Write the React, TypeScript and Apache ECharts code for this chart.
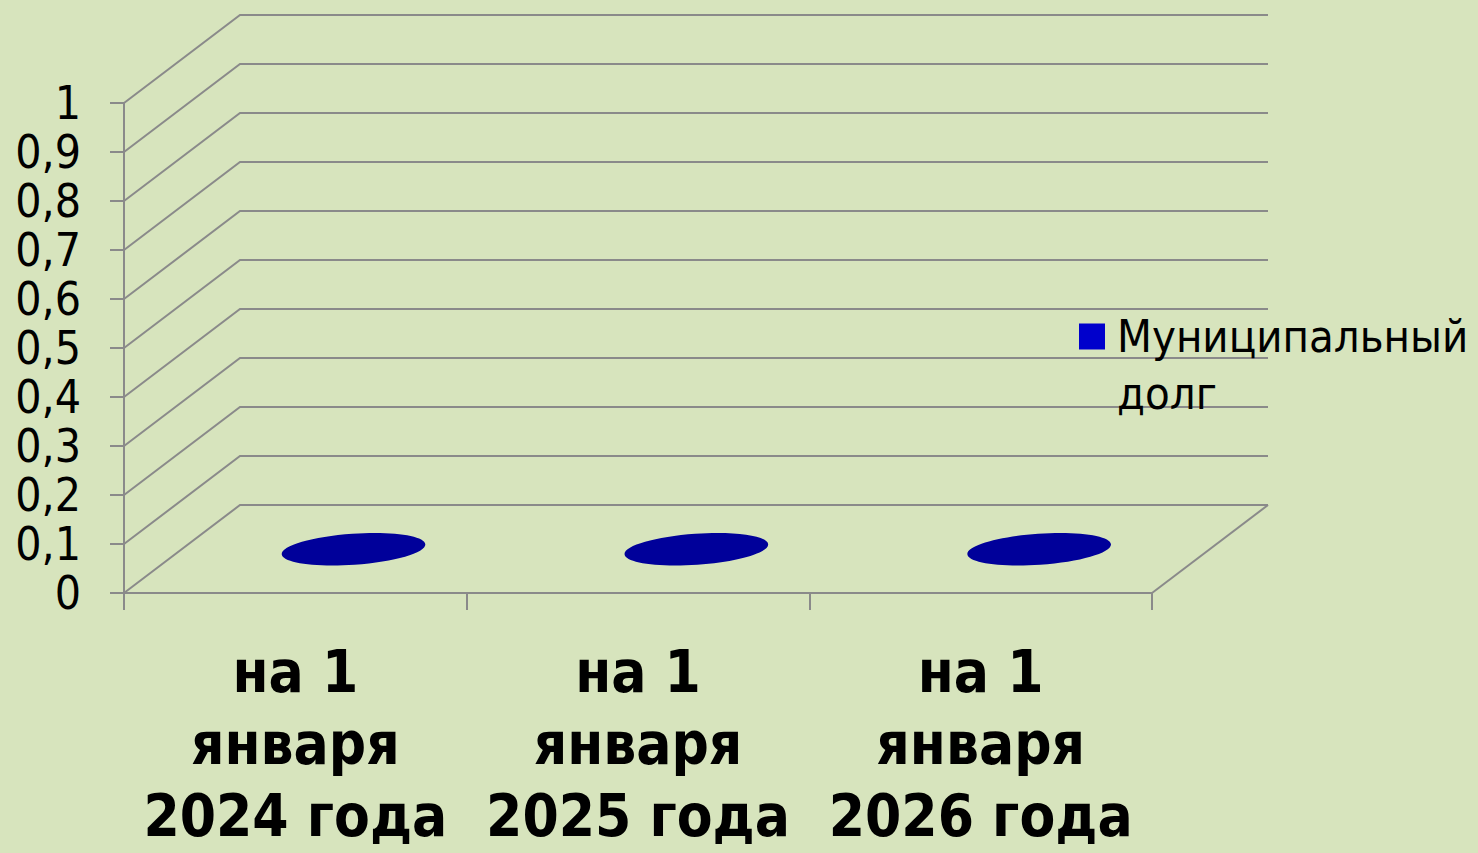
import React, { useEffect, useRef } from "react";
import * as echarts from "echarts";

const categories = [
  "на 1\nянваря\n2024 года",
  "на 1\nянваря\n2025 года",
  "на 1\nянваря\n2026 года",
];
const debtValues = [0, 0, 0];
const yTicks = [0, 0.1, 0.2, 0.3, 0.4, 0.5, 0.6, 0.7, 0.8, 0.9, 1];
const seriesName = "Муниципальный\nдолг";

const DEPTH_X = 116;
const DEPTH_Y = -88;
const GRID_COLOR = "#8a8a8a";
const FONT = "'DejaVu Sans Condensed', 'DejaVu Sans', sans-serif";

export default function App() {
  const ref = useRef<HTMLDivElement>(null);

  useEffect(() => {
    if (!ref.current) return;
    const chart = echarts.init(ref.current, null, { renderer: "svg" });

    const option: any = {
      animation: false,
      backgroundColor: "#d7e4bd",
      textStyle: { fontFamily: FONT },
      grid: {
        left: 124,
        right: 326,
        top: 103,
        bottom: 260,
        containLabel: false,
        outerBoundsMode: "none",
      },
      legend: {
        left: 1079,
        top: 251,
        padding: 0,
        orient: "vertical",
        selectedMode: false,
        itemWidth: 26,
        itemHeight: 26,
        icon: "rect",
        data: [{ name: seriesName, icon: "rect" }],
        formatter: (name: string) => " \n" + name,
        textStyle: {
          fontFamily: FONT,
          fontSize: 45,
          color: "#000",
          lineHeight: 57,
          padding: [0, 0, 0, 7],
        },
      },
      xAxis: {
        type: "category",
        data: categories,
        boundaryGap: true,
        axisLine: { show: true, lineStyle: { color: GRID_COLOR, width: 2 } },
        axisTick: { show: true, length: 17, lineStyle: { color: GRID_COLOR, width: 2 } },
        axisLabel: {
          interval: 0,
          margin: 43,
          fontFamily: FONT,
          fontSize: 58,
          fontWeight: "bold",
          lineHeight: 72,
          color: "#000",
        },
        splitLine: { show: false },
      },
      yAxis: {
        type: "value",
        min: 0,
        max: 1,
        interval: 0.1,
        axisLine: { show: true, lineStyle: { color: GRID_COLOR, width: 2 } },
        axisTick: { show: true, length: 14, lineStyle: { color: GRID_COLOR, width: 2 } },
        axisLabel: {
          margin: 43,
          fontFamily: FONT,
          fontSize: 46,
          lineHeight: 44,
          color: "#000",
          formatter: (v: number) => String(+v.toFixed(1)).replace(".", ","),
        },
        splitLine: { show: false },
      },
      series: [
        {
          type: "custom",
          name: "grid3d",
          silent: true,
          z: 1,
          data: yTicks.map((v) => [0, v]),
          renderItem: (params: any, api: any) => {
            const v = api.value(1);
            const p = api.coord([0, v]);
            const bw = api.size([1, 0])[0];
            const left = p[0] - bw / 2;
            const right = left + bw * categories.length;
            const y = p[1];
            const children: any[] = [
              {
                type: "polyline",
                shape: {
                  points: [
                    [left, y],
                    [left + DEPTH_X, y + DEPTH_Y],
                    [right + DEPTH_X, y + DEPTH_Y],
                  ],
                },
                style: { stroke: GRID_COLOR, lineWidth: 2, fill: "none" },
              },
            ];
            if (v === 0) {
              children.push({
                type: "line",
                shape: { x1: right, y1: y, x2: right + DEPTH_X, y2: y + DEPTH_Y },
                style: { stroke: GRID_COLOR, lineWidth: 2 },
              });
            }
            return { type: "group", children };
          },
        },
        {
          type: "custom",
          name: seriesName,
          z: 3,
          itemStyle: { color: "#0000cc" },
          data: debtValues.map((v, i) => [i, v]),
          renderItem: (params: any, api: any) => {
            const i = api.value(0);
            const v = api.value(1);
            const top = api.coord([i, v]);
            const base = api.coord([i, 0]);
            const bw = api.size([1, 0])[0];
            const rx = bw * 0.21;
            const ry = 15.5;
            const rot = 0.07;
            const cx = top[0] + DEPTH_X / 2;
            const cyTop = top[1] + DEPTH_Y / 2;
            const cyBase = base[1] + DEPTH_Y / 2;
            const children: any[] = [];
            if (cyBase - cyTop > 0.5) {
              children.push({
                type: "ellipse",
                shape: { cx, cy: cyBase, rx, ry },
                originX: cx,
                originY: cyBase,
                rotation: rot,
                style: { fill: "#00007a" },
              });
              children.push({
                type: "rect",
                shape: { x: cx - rx, y: cyTop, width: rx * 2, height: cyBase - cyTop },
                style: { fill: "#0000b0" },
              });
            }
            children.push({
              type: "ellipse",
              shape: { cx, cy: cyTop, rx, ry },
              originX: cx,
              originY: cyTop,
              rotation: rot,
              style: { fill: "#00009a" },
            });
            return { type: "group", children };
          },
        },
      ],
    };

    chart.setOption(option);
    return () => chart.dispose();
  }, []);

  return (
    <div
      ref={ref}
      style={{ position: "fixed", left: 0, top: 0, width: 1478, height: 853 }}
    />
  );
}
